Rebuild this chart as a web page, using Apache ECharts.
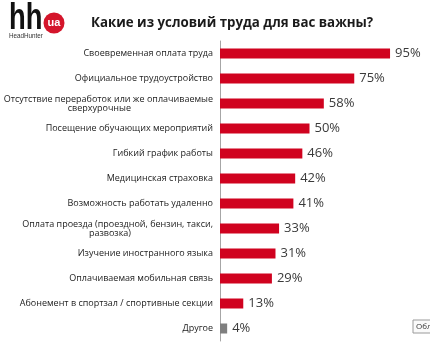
<!DOCTYPE html>
<html><head><meta charset="utf-8">
<script src="https://cdn.jsdelivr.net/npm/echarts@6/dist/echarts.min.js"></script>
<style>html,body{margin:0;padding:0;background:#fff}#c{width:430px;height:350px}</style>
</head><body><div id="c"></div>
<script>
const titleText = 'Какие из условий труда для вас важны?';
const categories = [
  'Своевременная оплата труда',
  'Официальное трудоустройство',
  'Отсутствие переработок или же оплачиваемые\nсверхурочные',
  'Посещение обучающих мероприятий',
  'Гибкий график работы',
  'Медицинская страховка',
  'Возможность работать удаленно',
  'Оплата проезда (проездной, бензин, такси,\nразвозка)',
  'Изучение иностранного языка',
  'Оплачиваемая мобильная связь',
  'Абонемент в спортзал / спортивные секции',
  'Другое'
];
const values = [95, 75, 58, 50, 46, 42, 41, 33, 31, 29, 13, 4];
const highlightGray = ['Другое'];

const chart = echarts.init(document.getElementById('c'));
chart.setOption({
  animation: false,
  title: {
    text: titleText, left: 86, top: 12,
    textStyle: {fontFamily: 'Open Sans', fontWeight: 'bold', fontSize: 13.3, color: '#1a1a1a'}
  },
  grid: {left: 220, top: 41, width: 179, height: 300, containLabel: false},
  xAxis: {type: 'value', min: 0, max: 100, show: false},
  yAxis: [{
    type: 'category', data: categories, inverse: true,
    axisLine: {show: true, lineStyle: {color: '#a6a6a6', width: 1}},
    axisTick: {show: false},
    axisLabel: {
      margin: 7, fontFamily: 'Open Sans', fontSize: 9, color: '#222', lineHeight: 8,
      formatter: v => v.includes('\n') ? v.split('\n')[0] + '\n ' : v
    }
  }, {
    type: 'category', data: categories, inverse: true, position: 'left',
    axisLine: {show: false}, axisTick: {show: false},
    axisLabel: {
      margin: 89, fontFamily: 'Open Sans', fontSize: 9, color: '#222', lineHeight: 9,
      formatter: v => v.includes('\n') ? ' \n' + v.split('\n')[1] : ''
    }
  }],
  series: [{
    type: 'bar', barWidth: 10, yAxisIndex: 0,
    data: values.map((v, i) => ({
      value: v,
      itemStyle: {color: highlightGray.includes(categories[i]) ? '#7f7f7f' : '#d0021f'}
    })),
    label: {
      show: true, position: 'right', distance: 5,
      formatter: '{c}%', fontFamily: 'Open Sans', fontSize: 13, color: '#3a3a3a'
    }
  }],
  graphic: [
    {type: 'text', x: 9, y: 18.5, scaleX: 0.74, style: {text: 'hh', font: 'bold 37px "Liberation Sans"', fill: '#111', textVerticalAlign: 'middle'}},
    {type: 'circle', shape: {cx: 54, cy: 23, r: 10.5}, style: {fill: '#d4152b'}},
    {type: 'text', x: 54, y: 23, style: {text: 'ua', font: 'bold 11px "Liberation Sans"', fill: '#fff', textAlign: 'center', textVerticalAlign: 'middle'}},
    {type: 'text', left: 9, top: 33, style: {text: 'HeadHunter', font: '6.3px "Liberation Sans"', fill: '#333'}},
    {type: 'rect', shape: {x: 413, y: 320, width: 20, height: 13}, style: {fill: '#fafafa', stroke: '#9a9a9a', lineWidth: 1}},
    {type: 'text', x: 416, y: 326.5, style: {text: 'Обл', font: '8px "Open Sans"', fill: '#333', textVerticalAlign: 'middle'}}
  ]
});
</script></body></html>
